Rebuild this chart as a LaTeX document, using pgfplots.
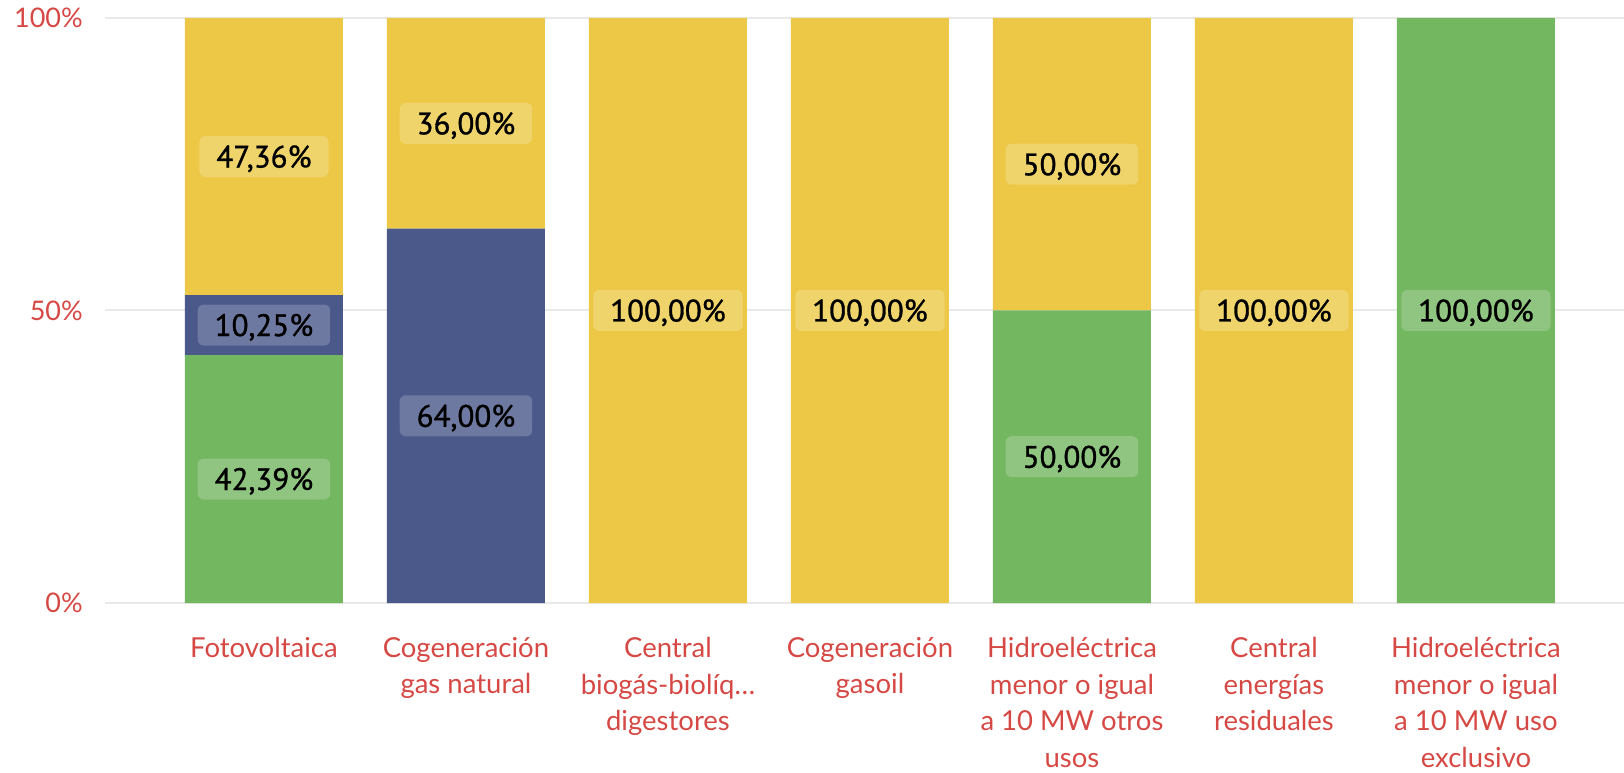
\documentclass[border=0pt]{standalone}
\usepackage{pgfplots}
\usepackage{pgfplotstable}
\pgfplotsset{compat=1.18}
\usepackage{fontspec}
\setmainfont{Lato}
\newfontfamily\lblfont[FakeBold=1]{PT Sans}
\definecolor{grn}{HTML}{73B761}
\definecolor{blu}{HTML}{4A588A}
\definecolor{ylw}{HTML}{ECC846}
\definecolor{ticktxt}{HTML}{D64844}
\definecolor{gridc}{HTML}{E9E9E9}

% shares per category (percent of total), stacked green / blue / yellow
\pgfplotstableread{
x  gr     bl     ye
0  42.39  10.25  47.36
1  0      64     36
2  0      0      100
3  0      0      100
4  50     0      50
5  0      0      100
6  100    0      0
}\shares

\tikzset{lblbox/.style={fill=white, fill opacity=0.2, text opacity=1,
    rounded corners=6pt, inner xsep=17pt, inner ysep=0pt,
    minimum height=41pt, text height=22pt, text depth=0pt,
    font=\lblfont\fontsize{31}{31}\selectfont, text=black}}

\newcommand\seglabel[1]{%
  \pgfmathparse{#1>0.01 ? 1 : 0}%
  \ifnum\pgfmathresult>0\relax
    \tikz\node[lblbox]{\pgfmathprintnumber[assume math mode=true]{#1}\%};%
  \fi}

\begin{document}
\begin{tikzpicture}
\useasboundingbox (-105pt,-170pt) rectangle (1519pt,603pt);
\begin{axis}[
    scale only axis,
    width=1519pt, height=585pt,
    at={(0,0)}, anchor=south west,
    ybar stacked,
    bar width=158pt,
    xmin=-0.787, xmax=6.733,
    ymin=0, ymax=100,
    axis line style={draw=none},
    tick style={draw=none},
    major tick length=0pt,
    ymajorgrids,
    grid style={gridc, line width=2pt},
    ytick={0,50,100},
    yticklabels={0\%,50\%,100\%},
    xtick={0,1,2,3,4,5,6},
    xticklabels={Fotovoltaica,
        {Cogeneración\\gas natural},
        {Central\\biogás-biolíq\ldots\\digestores},
        {Cogeneración\\gasoil},
        {Hidroeléctrica\\menor o igual\\a 10 MW otros\\usos},
        {Central\\energías\\residuales},
        {Hidroeléctrica\\menor o igual\\a 10 MW uso\\exclusivo}},
    xticklabel style={align=center, inner sep=0pt, yshift=-34pt,
        font=\fontsize{27.5}{36.7}\selectfont, text=ticktxt},
    yticklabel style={inner sep=0pt, xshift=-22pt,
        font=\fontsize{27}{27}\selectfont, text=ticktxt},
    /pgf/number format/.cd, fixed, fixed zerofill, precision=2, use comma, 1000 sep={},
    /pgfplots/.cd,
    visualization depends on={rawy \as \rawy},
    nodes near coords={\seglabel{\rawy}},
    every node near coord/.append style={anchor=center, inner sep=0pt},
]
\addplot[fill=grn, draw=none] table[x=x, y=gr] {\shares};
\addplot[fill=blu, draw=none] table[x=x, y=bl] {\shares};
\addplot[fill=ylw, draw=none] table[x=x, y=ye] {\shares};
\end{axis}
\end{tikzpicture}
\end{document}
